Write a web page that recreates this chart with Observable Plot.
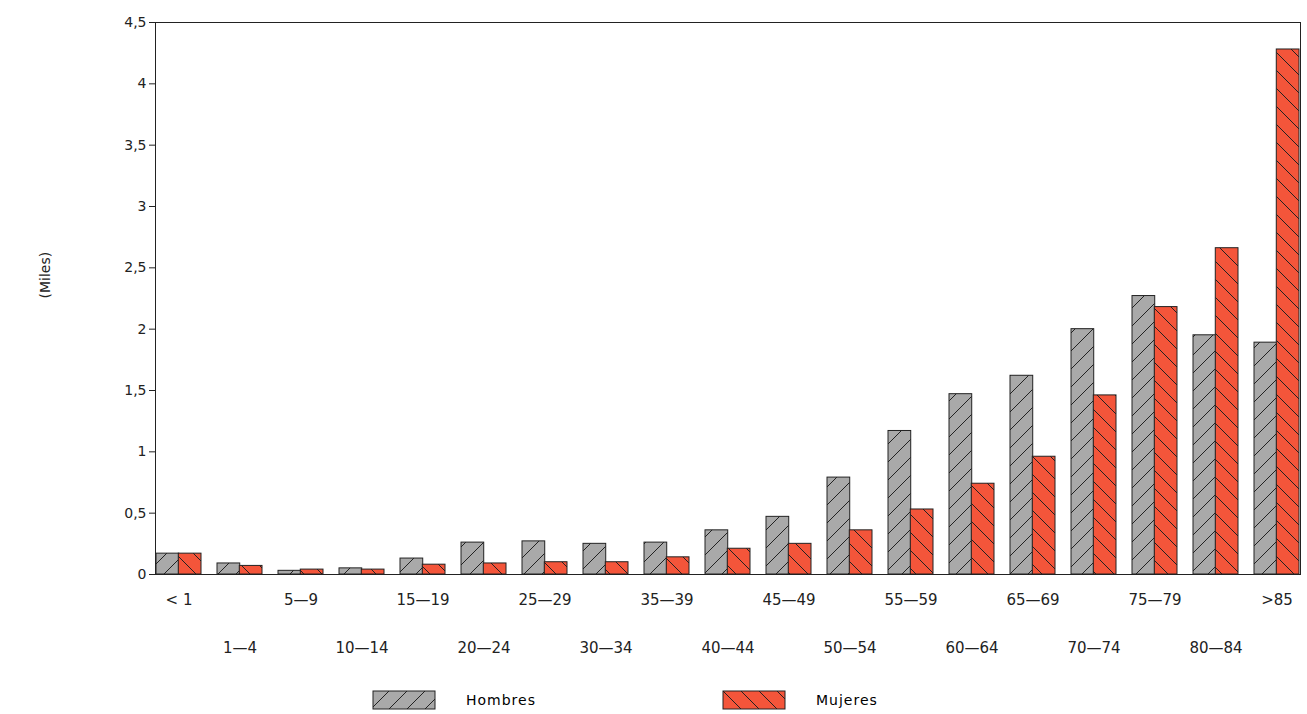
<!DOCTYPE html>
<html><head><meta charset="utf-8">
<script src="https://cdn.jsdelivr.net/npm/d3@7"></script>
<script src="https://cdn.jsdelivr.net/npm/@observablehq/plot@0.6"></script>
<style>body{margin:0;background:#fff;font-family:"DejaVu Sans",sans-serif}
#leg{font-size:14px;letter-spacing:1px}
#leg div{display:flex;align-items:center;gap:30px;position:absolute}
</style></head><body>
<div id="chart"></div>
<div id="leg" style="position:relative;height:24px;margin-top:8px">
 <div style="left:372px;top:0"><svg width="64" height="20"><rect x="1" y="1" width="62" height="18" fill="url(#hH)" stroke="#222"/></svg>Hombres</div>
 <div style="left:722px;top:0"><svg width="64" height="20"><rect x="1" y="1" width="62" height="18" fill="url(#hM)" stroke="#222"/></svg>Mujeres</div>
</div>
<script>
const grupos=["< 1","1\u20144","5\u20149","10\u201414","15\u201419","20\u201424","25\u201429","30\u201434","35\u201439","40\u201444","45\u201449","50\u201454","55\u201459","60\u201464","65\u201469","70\u201474","75\u201479","80\u201484",">85"];
const hombres=[0.17,0.09,0.03,0.05,0.13,0.26,0.27,0.25,0.26,0.36,0.47,0.79,1.17,1.47,1.62,2.0,2.27,1.95,1.89];
const mujeres=[0.17,0.07,0.04,0.04,0.08,0.09,0.1,0.1,0.14,0.21,0.25,0.36,0.53,0.74,0.96,1.46,2.18,2.66,4.28];
const yTicks=[0,0.5,1,1.5,2,2.5,3,3.5,4,4.5];
const H=grupos.map((g,i)=>({g,v:hombres[i]}));
const M=grupos.map((g,i)=>({g,v:mujeres[i]}));
const fmt=d=>String(d).replace(".",",");
const W=1307,mL=155,mR=7;
const xOpt={type:"band",domain:grupos,paddingInner:0.27,paddingOuter:0.015};
const bw=Plot.scale({x:{...xOpt,range:[mL,W-mR]}}).bandwidth;
const plot=Plot.plot({
 width:W,height:682,marginLeft:mL,marginRight:mR,marginTop:22,marginBottom:108,
 style:{fontFamily:"DejaVu Sans",fontSize:"14px",color:"#222"},
 x:{...xOpt,axis:null},
 y:{domain:[0,4.5],ticks:yTicks,tickFormat:fmt},
 marks:[
  Plot.frame({stroke:"#222"}),
  Plot.barY(H,{x:"g",y:"v",insetRight:bw/2,fill:"url(#hH)",stroke:"#222"}),
  Plot.barY(M,{x:"g",y:"v",insetLeft:bw/2,fill:"url(#hM)",stroke:"#222"}),
  Plot.axisY({ticks:yTicks,tickFormat:fmt,tickSize:6,label:null,fontSize:14}),
  Plot.axisX({ticks:grupos.filter((d,i)=>i%2===0),tickSize:0,label:null,tickPadding:20,fontSize:15}),
  Plot.axisX({ticks:grupos.filter((d,i)=>i%2===1),tickSize:0,label:null,tickPadding:68,fontSize:15}),
  Plot.text(["(Miles)"],{frameAnchor:"left",dx:-110,rotate:-90,fontSize:14})
 ]
});
document.getElementById("chart").appendChild(plot);
const defs=d3.select(plot).insert("defs",":first-child");
function pat(id,bg,dir){
 const s=18;
 const p=defs.append("pattern").attr("id",id).attr("patternUnits","userSpaceOnUse").attr("width",s).attr("height",s);
 p.append("rect").attr("width",s).attr("height",s).attr("fill",bg);
 if(dir>0)p.append("path").attr("d",`M-3,3 l6,-6 M0,${s} l${s},-${s} M${s-3},${s+3} l6,-6`).attr("stroke","#222").attr("stroke-width",1);
 else p.append("path").attr("d",`M-3,${s-3} l6,6 M0,0 l${s},${s} M${s-3},-3 l6,6`).attr("stroke","#222").attr("stroke-width",1);
}
pat("hH","#a9a9a9",1);pat("hM","#f4553a",-1);
</script></body></html>
